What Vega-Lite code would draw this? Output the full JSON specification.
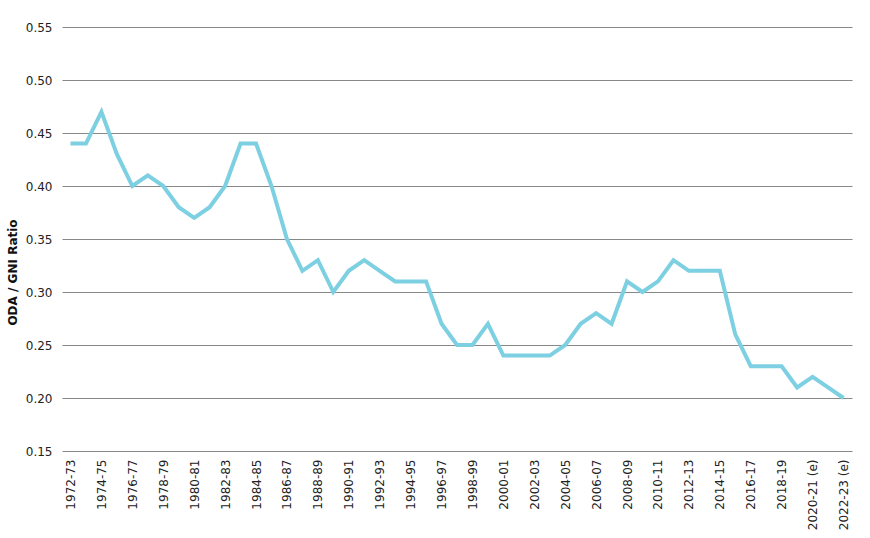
{
  "$schema": "https://vega.github.io/schema/vega-lite/v6.json",
  "width": 790,
  "height": 424,
  "autosize": {"type": "none"},
  "padding": {"left": 62, "top": 27, "right": 18, "bottom": 87},
  "background": "white",
  "config": {"view": {"stroke": null}},
  "data": {"values": [
    {"year": "1972-73", "ratio": 0.44},
    {"year": "1973-74", "ratio": 0.44},
    {"year": "1974-75", "ratio": 0.47},
    {"year": "1975-76", "ratio": 0.43},
    {"year": "1976-77", "ratio": 0.40},
    {"year": "1977-78", "ratio": 0.41},
    {"year": "1978-79", "ratio": 0.40},
    {"year": "1979-80", "ratio": 0.38},
    {"year": "1980-81", "ratio": 0.37},
    {"year": "1981-82", "ratio": 0.38},
    {"year": "1982-83", "ratio": 0.40},
    {"year": "1983-84", "ratio": 0.44},
    {"year": "1984-85", "ratio": 0.44},
    {"year": "1985-86", "ratio": 0.40},
    {"year": "1986-87", "ratio": 0.35},
    {"year": "1987-88", "ratio": 0.32},
    {"year": "1988-89", "ratio": 0.33},
    {"year": "1989-90", "ratio": 0.30},
    {"year": "1990-91", "ratio": 0.32},
    {"year": "1991-92", "ratio": 0.33},
    {"year": "1992-93", "ratio": 0.32},
    {"year": "1993-94", "ratio": 0.31},
    {"year": "1994-95", "ratio": 0.31},
    {"year": "1995-96", "ratio": 0.31},
    {"year": "1996-97", "ratio": 0.27},
    {"year": "1997-98", "ratio": 0.25},
    {"year": "1998-99", "ratio": 0.25},
    {"year": "1999-00", "ratio": 0.27},
    {"year": "2000-01", "ratio": 0.24},
    {"year": "2001-02", "ratio": 0.24},
    {"year": "2002-03", "ratio": 0.24},
    {"year": "2003-04", "ratio": 0.24},
    {"year": "2004-05", "ratio": 0.25},
    {"year": "2005-06", "ratio": 0.27},
    {"year": "2006-07", "ratio": 0.28},
    {"year": "2007-08", "ratio": 0.27},
    {"year": "2008-09", "ratio": 0.31},
    {"year": "2009-10", "ratio": 0.30},
    {"year": "2010-11", "ratio": 0.31},
    {"year": "2011-12", "ratio": 0.33},
    {"year": "2012-13", "ratio": 0.32},
    {"year": "2013-14", "ratio": 0.32},
    {"year": "2014-15", "ratio": 0.32},
    {"year": "2015-16", "ratio": 0.26},
    {"year": "2016-17", "ratio": 0.23},
    {"year": "2017-18", "ratio": 0.23},
    {"year": "2018-19", "ratio": 0.23},
    {"year": "2019-20", "ratio": 0.21},
    {"year": "2020-21 (e)", "ratio": 0.22},
    {"year": "2021-22 (e)", "ratio": 0.21},
    {"year": "2022-23 (e)", "ratio": 0.20}
  ]},
  "mark": {"type": "line", "color": "#7dd0e1", "strokeWidth": 4},
  "encoding": {
    "x": {
      "field": "year",
      "type": "ordinal",
      "sort": null,
      "scale": {"type": "point", "padding": 0.55},
      "axis": {
        "title": null,
        "values": ["1972-73","1974-75","1976-77","1978-79","1980-81","1982-83","1984-85","1986-87","1988-89","1990-91","1992-93","1994-95","1996-97","1998-99","2000-01","2002-03","2004-05","2006-07","2008-09","2010-11","2012-13","2014-15","2016-17","2018-19","2020-21 (e)","2022-23 (e)"],
        "labelAngle": -90,
        "labelFont": "DejaVu Sans",
        "labelFontSize": 12,
        "labelColor": "#222222",
        "labelPadding": 8,
        "ticks": false,
        "domain": false,
        "grid": false
      }
    },
    "y": {
      "field": "ratio",
      "type": "quantitative",
      "scale": {"domain": [0.15, 0.55], "nice": false, "zero": false},
      "axis": {
        "title": "ODA / GNI Ratio",
        "titleFont": "DejaVu Sans",
        "titleFontSize": 12,
        "titleFontWeight": "bold",
        "titleColor": "#111111",
        "titleX": -43,
        "titleY": 245,
        "values": [0.15, 0.2, 0.25, 0.3, 0.35, 0.4, 0.45, 0.5, 0.55],
        "format": ".2f",
        "labelFont": "DejaVu Sans",
        "labelFontSize": 12,
        "labelColor": "#222222",
        "labelPadding": 10,
        "ticks": false,
        "domain": false,
        "grid": true,
        "gridColor": "#888888",
        "gridWidth": 1.2
      }
    }
  }
}
